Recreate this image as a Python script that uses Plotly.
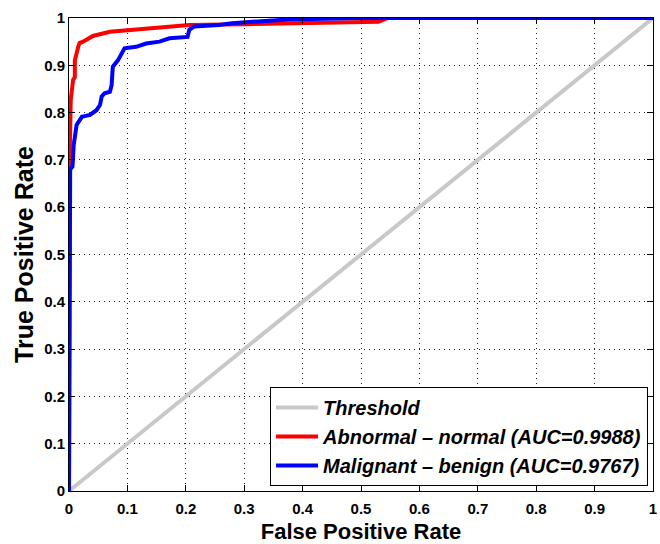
import plotly.graph_objects as go

# ROC curve points (false positive rate, true positive rate)
threshold_fpr = [0, 1]
threshold_tpr = [0, 1]

abnormal_fpr = [0, 0.001, 0.003, 0.007, 0.010, 0.010, 0.016, 0.018, 0.024, 0.041,
                0.070, 0.115, 0.155, 0.206, 0.300, 0.376, 0.450, 0.530, 0.546, 1.0]
abnormal_tpr = [0, 0.700, 0.827, 0.869, 0.875, 0.910, 0.940, 0.947, 0.950, 0.962,
                0.971, 0.975, 0.980, 0.985, 0.987, 0.989, 0.990, 0.992, 1.0, 1.0]

malignant_fpr = [0, 0.002, 0.006, 0.008, 0.013, 0.022, 0.036, 0.047, 0.053, 0.056,
                 0.061, 0.070, 0.073, 0.075, 0.084, 0.095, 0.115, 0.132, 0.155, 0.172,
                 0.203, 0.206, 0.214, 0.257, 0.279, 0.325, 0.376, 0.50, 1.0]
malignant_tpr = [0, 0.680, 0.686, 0.731, 0.774, 0.791, 0.795, 0.805, 0.816, 0.834,
                 0.841, 0.844, 0.858, 0.897, 0.911, 0.936, 0.939, 0.946, 0.950, 0.957,
                 0.960, 0.975, 0.982, 0.985, 0.989, 0.992, 0.997, 1.0, 1.0]

tick_vals = [0, 0.1, 0.2, 0.3, 0.4, 0.5, 0.6, 0.7, 0.8, 0.9, 1]
tick_text = ["0", "0.1", "0.2", "0.3", "0.4", "0.5", "0.6", "0.7", "0.8", "0.9", "1"]

FONT = "Liberation Sans, Arial, Helvetica, sans-serif"

fig = go.Figure()
fig.add_trace(go.Scatter(x=threshold_fpr, y=threshold_tpr, mode="lines",
                         name="Threshold", line=dict(color="#c8c8c8", width=4)))
fig.add_trace(go.Scatter(x=abnormal_fpr, y=abnormal_tpr, mode="lines",
                         name="Abnormal – normal (AUC=0.9988)",
                         line=dict(color="#ff0000", width=4)))
fig.add_trace(go.Scatter(x=malignant_fpr, y=malignant_tpr, mode="lines",
                         name="Malignant – benign (AUC=0.9767)",
                         line=dict(color="#0000ff", width=4)))

axis_common = dict(
    range=[0, 1],
    tickvals=tick_vals,
    ticktext=tick_text,
    tickfont=dict(family=FONT, size=15, color="black", weight="bold"),
    ticks="inside",
    ticklen=6,
    tickcolor="black",
    showline=True,
    linecolor="black",
    linewidth=1,
    mirror="ticks",
    showgrid=True,
    gridcolor="#222222",
    gridwidth=1,
    griddash="1px,4px",
    zeroline=False,
    fixedrange=True,
    ticklabeloverflow="allow",
)

fig.update_layout(
    width=660,
    height=544,
    margin=dict(l=69, r=3, t=18, b=53),
    paper_bgcolor="white",
    plot_bgcolor="white",
    xaxis=dict(axis_common,
               ticklabelstandoff=4,
               title=dict(text="False Positive Rate", standoff=8,
                          font=dict(family=FONT, size=22, color="black", weight="bold"))),
    yaxis=dict(axis_common,
               title=dict(text="True Positive Rate", standoff=3,
                          font=dict(family=FONT, size=25, color="black", weight="bold"))),
    legend=dict(
        x=0.9915, y=0.0106, xanchor="right", yanchor="bottom",
        bgcolor="white", bordercolor="black", borderwidth=1,
        font=dict(family=FONT, size=20, color="black", weight="bold", style="italic"),
        tracegroupgap=0,
        itemwidth=42,
    ),
    showlegend=True,
)

fig.write_html("out.html")
